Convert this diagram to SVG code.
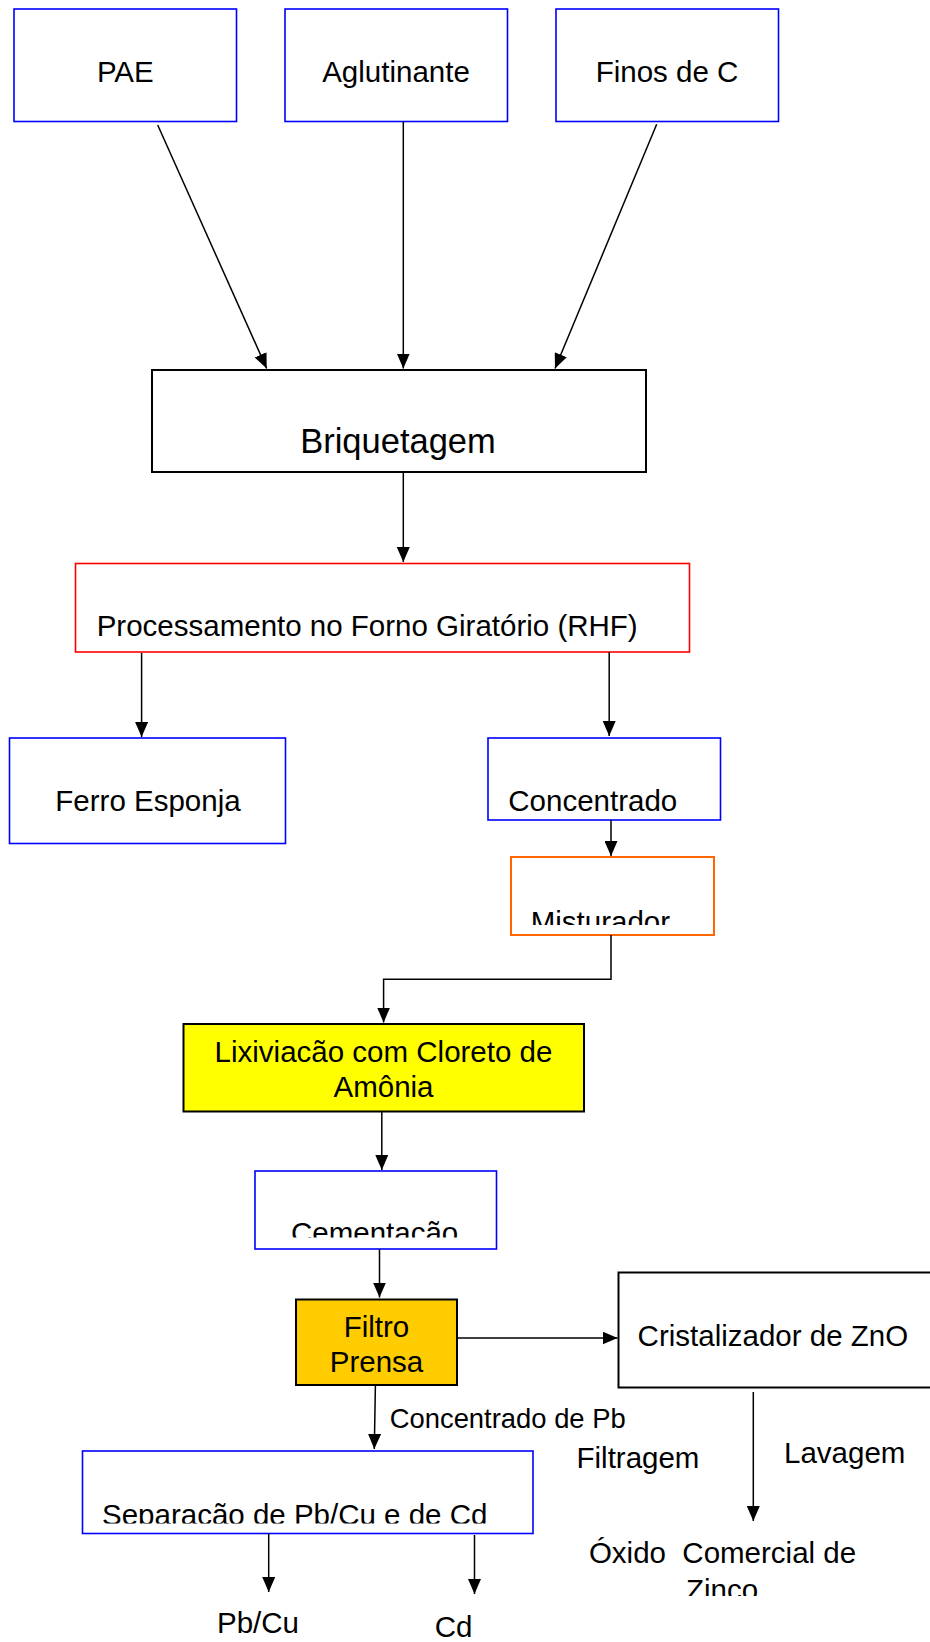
<svg xmlns="http://www.w3.org/2000/svg" width="930" height="1642" viewBox="0 0 930 1642">
  <style>
    .box { fill: #ffffff; stroke-width: 1.6; }
    .blue { stroke: #0000ff; }
    .red { stroke: #ff0000; }
    .orange { stroke: #ff6600; stroke-width: 2; }
    .dark { stroke: #000000; stroke-width: 2; }
    .lbl { font-family: "Liberation Sans", Arial, sans-serif; font-size: 29.5px; fill: #000000; }
    .mid { text-anchor: middle; }
    .conn { fill: none; stroke: #000000; stroke-width: 1.5; marker-end: url(#arrow); }
  </style>
  <defs>
    <marker id="arrow" markerUnits="userSpaceOnUse" markerWidth="15" markerHeight="13" refX="15" refY="6.5" orient="auto">
      <path d="M0,0 L15,6.5 L0,13 z" fill="#000000"/>
    </marker>
    <clipPath id="clipMisturador"><rect x="511" y="857" width="203" height="68"/></clipPath>
    <clipPath id="clipCementacao"><rect x="255" y="1171" width="241" height="66.5"/></clipPath>
    <clipPath id="clipSeparacao"><rect x="83" y="1451" width="450" height="72.5"/></clipPath>
    <clipPath id="clipZinco"><rect x="560" y="1570" width="330" height="26"/></clipPath>
  </defs>

  <rect width="930" height="1642" fill="#ffffff"/>

  <!-- inputs -->
  <g id="pae">
    <rect class="box blue" x="14" y="9" width="222.5" height="112.5"/>
    <text class="lbl mid" x="125.3" y="81.7">PAE</text>
  </g>
  <g id="aglutinante">
    <rect class="box blue" x="285" y="9" width="222.5" height="112.5"/>
    <text class="lbl mid" x="396" y="81.7">Aglutinante</text>
  </g>
  <g id="finos">
    <rect class="box blue" x="556" y="9" width="222.5" height="112.5"/>
    <text class="lbl mid" x="667" y="81.7">Finos de C</text>
  </g>

  <g id="briquetagem">
    <rect class="box dark" x="152" y="370" width="494" height="102"/>
    <text class="lbl mid" x="398" y="452.7" style="font-size:34.5px">Briquetagem</text>
  </g>

  <g id="rhf">
    <rect class="box red" x="75.5" y="563.5" width="614" height="88.5"/>
    <text class="lbl" x="96.7" y="635.7">Processamento no Forno Giratório (RHF)</text>
  </g>

  <g id="ferro-esponja">
    <rect class="box blue" x="9.5" y="738" width="276" height="105.5"/>
    <text class="lbl mid" x="148" y="810.7">Ferro Esponja</text>
  </g>

  <g id="concentrado">
    <rect class="box blue" x="488" y="738" width="232.5" height="82"/>
    <text class="lbl" x="508.3" y="810.7">Concentrado</text>
  </g>

  <g id="misturador">
    <rect class="box orange" x="511" y="857" width="203" height="78"/>
    <text class="lbl" x="530.7" y="931.5" clip-path="url(#clipMisturador)">Misturador</text>
  </g>

  <g id="lixiviacao">
    <rect class="dark" fill="#ffff00" x="183.5" y="1024" width="400.5" height="87.5"/>
    <text class="lbl mid" x="383.5" y="1061.7">Lixiviacão com Cloreto de</text>
    <text class="lbl mid" x="383.5" y="1096.7">Amônia</text>
  </g>

  <g id="cementacao">
    <rect class="box blue" x="255" y="1171" width="241.5" height="78"/>
    <text class="lbl" x="291" y="1243" clip-path="url(#clipCementacao)">Cementacão</text>
  </g>

  <g id="filtro-prensa">
    <rect class="dark" fill="#ffcc00" x="296" y="1299.5" width="161" height="85.5"/>
    <text class="lbl mid" x="376.5" y="1337.3">Filtro</text>
    <text class="lbl mid" x="376.5" y="1371.7">Prensa</text>
  </g>

  <g id="cristalizador">
    <rect class="box dark" x="618.5" y="1272.5" width="330" height="115"/>
    <text class="lbl" x="637.6" y="1346">Cristalizador de ZnO</text>
  </g>

  <g id="separacao">
    <rect class="box blue" x="82.5" y="1451" width="450.5" height="82.5"/>
    <text class="lbl" x="102" y="1525" clip-path="url(#clipSeparacao)">Separacão de Pb/Cu e de Cd</text>
  </g>

  <!-- free labels -->
  <g id="labels">
    <text class="lbl" x="389.7" y="1427.7" style="font-size:27.4px">Concentrado de Pb</text>
    <text class="lbl" x="576.5" y="1467.7">Filtragem</text>
    <text class="lbl" x="784" y="1462.7">Lavagem</text>
    <text class="lbl mid" x="722.5" y="1563.3" xml:space="preserve">Óxido  Comercial de</text>
    <text class="lbl mid" x="722" y="1600" clip-path="url(#clipZinco)">Zinco</text>
    <text class="lbl" x="217" y="1632.7">Pb/Cu</text>
    <text class="lbl" x="434.7" y="1637.3">Cd</text>
  </g>

  <!-- connectors -->
  <g id="connectors">
    <line class="conn" x1="157.7" y1="125" x2="266.7" y2="368.5"/>
    <line class="conn" x1="403.3" y1="121.5" x2="403.3" y2="368.5"/>
    <line class="conn" x1="656.7" y1="124.3" x2="555" y2="368.5"/>
    <line class="conn" x1="403.3" y1="472" x2="403.3" y2="562"/>
    <line class="conn" x1="141.6" y1="653" x2="141.6" y2="737"/>
    <line class="conn" x1="609.2" y1="652" x2="609.2" y2="736"/>
    <line class="conn" x1="611" y1="820" x2="611" y2="856"/>
    <polyline class="conn" points="611,935 611,979.3 383.6,979.3 383.6,1022.5"/>
    <line class="conn" x1="381.8" y1="1111.5" x2="381.8" y2="1170"/>
    <line class="conn" x1="379.5" y1="1249" x2="379.5" y2="1297.5"/>
    <line class="conn" x1="457" y1="1338" x2="617.5" y2="1338"/>
    <line class="conn" x1="375.4" y1="1385" x2="374.3" y2="1449"/>
    <line class="conn" x1="753.3" y1="1392" x2="753.3" y2="1521"/>
    <line class="conn" x1="268.7" y1="1533.5" x2="268.7" y2="1592"/>
    <line class="conn" x1="474.5" y1="1535" x2="474.5" y2="1594"/>
  </g>
</svg>
